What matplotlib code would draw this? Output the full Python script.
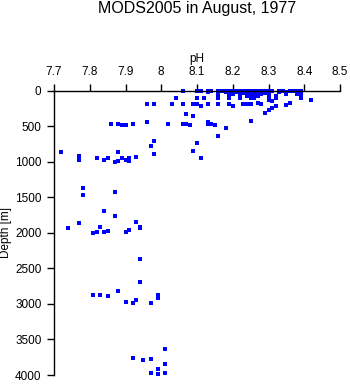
import matplotlib
matplotlib.use('Agg')
import matplotlib.pyplot as plt
from matplotlib.ticker import FuncFormatter

plt.rcParams['font.family'] = ['Liberation Sans', 'DejaVu Sans']

# upper ocean samples (0 - 250 m)
ph_top = [8.06, 8.10, 8.11, 8.13, 8.14, 8.16, 8.17, 8.18, 8.19, 8.20, 8.21, 8.22, 8.23, 8.24,
          8.25, 8.26, 8.27, 8.28, 8.29, 8.30, 8.31, 8.33, 8.34, 8.36, 8.37, 8.38, 8.39,
          8.11, 8.16, 8.17, 8.19, 8.20, 8.22, 8.23, 8.24, 8.25, 8.26, 8.27, 8.28, 8.30, 8.34, 8.36, 8.38,
          8.13, 8.16, 8.18, 8.19, 8.21, 8.22, 8.24, 8.25, 8.26, 8.27, 8.29, 8.33, 8.35, 8.39,
          8.16, 8.19, 8.20, 8.22, 8.23, 8.25, 8.26, 8.27, 8.29, 8.30, 8.38,
          8.16, 8.20, 8.22, 8.25, 8.26, 8.27, 8.28, 8.30, 8.35, 8.38, 8.39,
          8.19, 8.24, 8.26, 8.27, 8.30, 8.32,
          8.04, 8.10, 8.12, 8.16, 8.19, 8.22, 8.25, 8.26, 8.32, 8.39,
          8.42, 8.30, 8.31, 8.36, 8.27,
          7.96, 7.98, 8.03, 8.06, 8.09, 8.10, 8.13, 8.16, 8.19, 8.23, 8.24, 8.25, 8.28,
          8.35, 8.11, 8.20, 8.32, 8.31, 8.30, 8.29]
depth_top = [0] * 27 + [10] * 16 + [20] * 14 + [30] * 11 + [50] * 11 + [75] * 6 + [100] * 10 + \
            [133, 140, 150, 175, 180] + [195] * 13 + [210, 220, 222, 218, 250, 275, 320]

# intermediate samples (300 - 1500 m)
ph_mid = [8.07, 8.09, 8.25,
          7.86, 7.88, 7.89, 7.90, 7.92, 7.96, 8.02, 8.06, 8.07, 8.08, 8.13, 8.13, 8.14, 8.15,
          8.18, 8.16, 7.98, 8.10, 7.97, 8.09,
          7.72, 7.77, 7.77, 7.82, 7.84, 7.85, 7.87, 7.88, 7.88, 7.89, 7.90, 7.91, 7.91, 7.93, 7.98, 8.11,
          7.78, 7.78, 7.87]
depth_mid = [334, 354, 430,
             470, 475, 489, 489, 475, 447, 466, 466, 475, 489, 466, 442, 466, 489,
             531, 645, 714, 745, 775, 855,
             868, 916, 980, 952, 972, 952, 1000, 868, 990, 948, 976, 952, 990, 938, 890, 952,
             1374, 1463, 1430]

# deep samples (1500 - 4000 m)
ph_deep = [7.84, 7.87, 7.93, 7.77, 7.83, 7.94, 7.74, 7.91, 7.85, 7.82, 7.84, 7.90, 7.81, 7.94,
           7.94, 7.94,
           7.88, 7.83, 7.81, 7.99, 7.85, 7.99, 7.99, 7.93, 7.90, 7.97, 7.92,
           8.01, 7.92, 7.97, 7.95, 8.01, 7.99, 7.97, 8.01, 7.99]
depth_deep = [1697, 1767, 1851, 1861, 1922, 1922, 1936, 1955, 1978, 1987, 1992, 1992, 2006, 1940,
              2371, 2694,
              2820, 2872, 2882, 2882, 2891, 2910, 2924, 2942, 2975, 2989, 2994,
              3635, 3761, 3771, 3790, 3841, 3911, 3968, 3978, 3992]

x_ticks = [7.7, 7.8, 7.9, 8.0, 8.1, 8.2, 8.3, 8.4, 8.5]
y_ticks = [0, 500, 1000, 1500, 2000, 2500, 3000, 3500, 4000]

fig = plt.figure(figsize=(3.5, 3.84), dpi=100)
ax = fig.add_axes([54 / 350, 1 - 375 / 384, 286 / 350, 284.5 / 384])

for ph, d in [(ph_top, depth_top), (ph_mid, depth_mid), (ph_deep, depth_deep)]:
    ax.plot(ph, d, linestyle='none', marker='s', markersize=2.3, color='#0000ff',
            markeredgewidth=0, clip_on=False)

ax.set_xlim(7.7, 8.5)
ax.set_ylim(4000, 0)
ax.set_xticks(x_ticks)
ax.set_yticks(y_ticks)
ax.xaxis.set_major_formatter(FuncFormatter(lambda v, p: '%g' % round(v, 2)))
ax.xaxis.tick_top()
ax.xaxis.set_label_position('top')
ax.spines['right'].set_visible(False)
ax.spines['bottom'].set_visible(False)
for s in ['left', 'top']:
    ax.spines[s].set_linewidth(1)
ax.tick_params(axis='both', direction='out', length=5, width=1, labelsize=8.5, pad=4)
ax.set_xlabel('pH', fontsize=8.5, labelpad=3)
ax.set_ylabel('Depth [m]', fontsize=8.5, labelpad=2)

fig.text(197 / 350, 1 - 9 / 384, 'MODS2005 in August, 1977', ha='center', va='center', fontsize=11.5)

fig.savefig('out.png', dpi=100)
